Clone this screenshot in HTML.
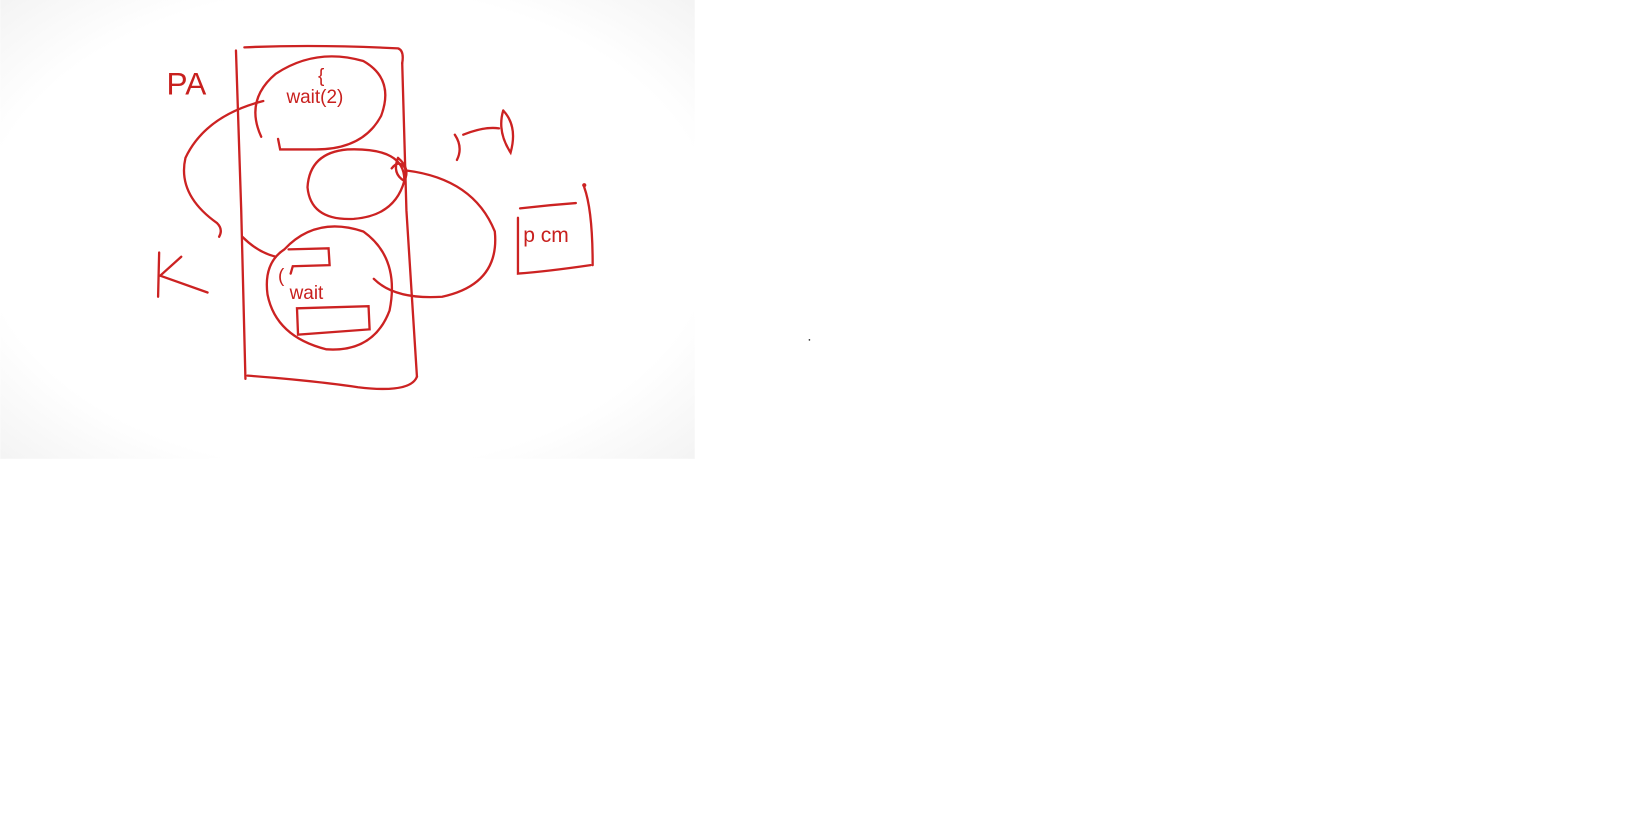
<!DOCTYPE html>
<html><head><meta charset="utf-8"><style>
html,body{margin:0;padding:0;background:#fff;width:1642px;height:826px;overflow:hidden}
svg{display:block}
text{font-family:"Liberation Sans",sans-serif;fill:#c8201e}
</style></head><body>
<svg width="1642" height="826" viewBox="0 0 1560 785" xmlns="http://www.w3.org/2000/svg">
<defs><radialGradient id="bg" cx="0.5" cy="0.5" r="0.75"><stop offset="0.7" stop-color="#ffffff"/><stop offset="1" stop-color="#f1f1f1"/></radialGradient></defs>
<rect x="0" y="0" width="660" height="436" fill="url(#bg)"/>
<g fill="none" stroke="#cc2222" stroke-width="2.2" stroke-linecap="round">
<path d="M224 48 L229 200 L233 360"/>
<path d="M232 45 Q300 42 378 46 Q384 48 382 60"/>
<path d="M382 60 L386 200 L396 358"/>
<path d="M235 357 Q300 362 340 368 Q390 374 396 358"/>
<path d="M248 130 Q232 95 262 70 Q300 45 345 58 Q375 75 362 110 Q345 142 300 142 L266 142 L264 132"/>
<path d="M330 142 Q385 140 384 172 Q375 205 336 208 Q295 210 292 178 Q294 145 330 142"/>
<path d="M270 237 Q300 205 345 220 Q380 245 370 295 Q355 335 310 332 Q262 320 254 280 Q250 250 270 237"/>
<path d="M274 237 L312 236 L313 252 L278 253 L276 260"/>
<path d="M282 293 L350 291 L351 313 L283 318 Z"/>
<path d="M250 96 Q195 110 176 150 Q168 185 206 212 Q212 218 208 225"/>
<path d="M230 225 Q245 240 262 244"/>
<path d="M372 160 Q380 150 386 162 Q450 170 470 220 Q475 270 420 282 Q375 285 355 265"/>
<path d="M378 150 Q372 165 384 172 Q390 160 378 150"/>
<path d="M151 240 L150 282 M152 262 L172 244 M152 262 L197 278"/>
<path d="M494 198 Q520 195 547 193 M492 207 L492 260 Q520 258 561 252 M555 178 Q563 200 563 252"/>
<path d="M432 128 Q440 140 434 152 M440 128 Q460 120 474 122 M478 105 Q472 125 485 145 Q492 120 478 105"/>
</g>
<circle cx="555" cy="176" r="2" fill="#cc2222"/>
<text x="158" y="90" font-size="30">PA</text>
<text x="302" y="78" font-size="18">{</text>
<text x="272" y="98" font-size="18">wait(2)</text>
<text x="264" y="268" font-size="18">(</text>
<text x="275" y="284" font-size="18">wait</text>
<text x="497" y="230" font-size="20">p cm</text>
<circle cx="769" cy="323" r="0.8" fill="#333"/>
</svg>
</body></html>
